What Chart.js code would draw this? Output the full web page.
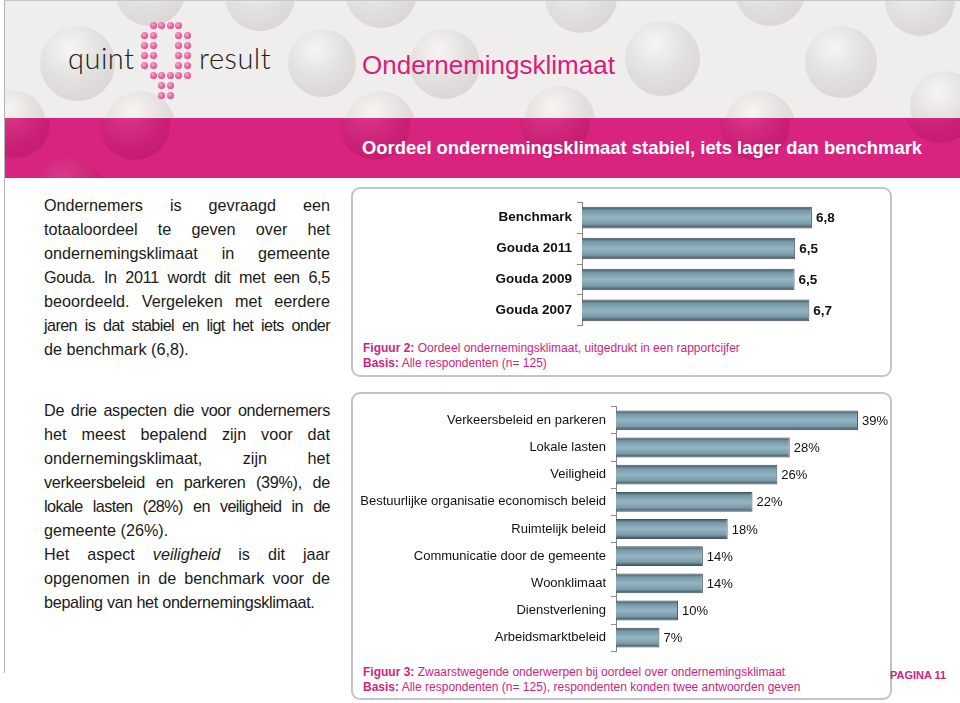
<!DOCTYPE html>
<html>
<head>
<meta charset="utf-8">
<script src="https://cdn.jsdelivr.net/npm/chart.js@4.4.1/dist/chart.umd.min.js"></script>
<style>
  html, body { margin: 0; padding: 0; background: #fff; }
  body { width: 960px; height: 703px; position: relative; overflow: hidden;
         font-family: 'Liberation Sans', Arial, sans-serif; color: #1a1a1a; }
  .page-edge { position: absolute; left: 4px; top: 0; width: 956px; height: 672px;
               border-left: 1px solid #b5b5b5; border-top: 1px solid #c8c8c8; }
  .head { position: absolute; left: 5px; top: 1px; width: 955px; height: 117px;
          background: #efeeec; overflow: hidden; }
  .band { position: absolute; left: 5px; top: 118px; width: 955px; height: 60px;
          background: #d8237f; overflow: hidden; }
  .bub { position: absolute; border-radius: 50%;
         background: radial-gradient(circle at 40% 30%, #f6f5f4 0%, #e3e1df 45%, #d3d0ce 100%); }
  .band .bub { background: radial-gradient(circle at 40% 30%, #dc3a8a 0%, #c91f74 60%, #be1c6c 100%); }
  .logo { position: absolute; top: 40px; font-size: 29px; font-weight: 300;
          font-family: 'Lato', 'Open Sans', sans-serif; color: #222; letter-spacing: 0.5px; }
  .dots { position: absolute; left: 141px; top: 22px; display: grid;
          grid-template-columns: repeat(6, 8.6px); grid-auto-rows: 10px; }
  .dots i { display: block; width: 7px; height: 7px; border-radius: 50%;
            background: radial-gradient(circle at 40% 35%, #f6a9cf 0%, #e2488f 70%); }
  .dots i.o { background: none; }
  .title { position: absolute; left: 362px; top: 50px; font-size: 26px; color: #d81e7b; }
  .subtitle { position: absolute; left: 362px; top: 137px; font-size: 18.4px; font-weight: bold; color: #fff; }
  .txt { position: absolute; left: 44px; width: 286px; font-size: 16.2px; line-height: 24px;
         color: #1a1a1a; }
  .txt div { text-align: justify; text-align-last: justify; white-space: nowrap; }
  .txt div.end { text-align-last: left; }
  .txt div.tight { letter-spacing: -0.3px; }
  .txt div.tighter { letter-spacing: -0.6px; word-spacing: -1px; }
  .box { position: absolute; left: 351px; width: 537px; border: 2px solid #c4c4c4;
         border-radius: 9px; background: #fff; }
  .cap { position: absolute; left: 10px; font-size: 12px; line-height: 15px; color: #d1237f; }
  .cap b { font-weight: bold; }
  canvas { position: absolute; left: 0; }
  .pag { position: absolute; left: 890px; top: 669px; font-size: 11px; font-weight: bold; color: #d1237f; }
</style>
</head>
<body>
<div class="page-edge"></div>
<div class="head">
  <div class="bub" style="left:110px;top:-45px;width:70px;height:70px"></div>
  <div class="bub" style="left:35px;top:25px;width:75px;height:75px"></div>
  <div class="bub" style="left:220px;top:-40px;width:70px;height:70px"></div>
  <div class="bub" style="left:340px;top:-45px;width:72px;height:72px"></div>
  <div class="bub" style="left:283px;top:28px;width:68px;height:68px"></div>
  <div class="bub" style="left:405px;top:28px;width:70px;height:70px"></div>
  <div class="bub" style="left:-20px;top:90px;width:60px;height:60px"></div>
  <div class="bub" style="left:100px;top:90px;width:70px;height:70px"></div>
  <div class="bub" style="left:340px;top:90px;width:70px;height:70px"></div>
  <div class="bub" style="left:540px;top:-40px;width:72px;height:72px"></div>
  <div class="bub" style="left:620px;top:20px;width:75px;height:75px"></div>
  <div class="bub" style="left:730px;top:-45px;width:70px;height:70px"></div>
  <div class="bub" style="left:800px;top:25px;width:72px;height:72px"></div>
  <div class="bub" style="left:880px;top:-35px;width:70px;height:70px"></div>
  <div class="bub" style="left:520px;top:85px;width:70px;height:70px"></div>
  <div class="bub" style="left:720px;top:90px;width:70px;height:70px"></div>
  <div class="bub" style="left:905px;top:70px;width:70px;height:70px"></div>
</div>
<div class="band">
  <div class="bub" style="left:-25px;top:-30px;width:70px;height:70px"></div>
  <div class="bub" style="left:95px;top:-28px;width:70px;height:70px"></div>
  <div class="bub" style="left:30px;top:40px;width:70px;height:70px"></div>
  <div class="bub" style="left:335px;top:-28px;width:70px;height:70px"></div>
  <div class="bub" style="left:515px;top:-32px;width:70px;height:70px"></div>
  <div class="bub" style="left:715px;top:-28px;width:70px;height:70px"></div>
  <div class="bub" style="left:900px;top:-45px;width:70px;height:70px"></div>
</div>

<div class="logo" style="left:68px">quint</div>
<div class="dots" id="dots"></div>
<div class="logo" style="left:199px">result</div>

<div class="title">Ondernemingsklimaat</div>
<div class="subtitle">Oordeel ondernemingsklimaat stabiel, iets lager dan benchmark</div>

<div class="txt" style="top:193px">
  <div>Ondernemers is gevraagd een</div>
  <div>totaaloordeel te geven over het</div>
  <div>ondernemingsklimaat in gemeente</div>
  <div class="tight">Gouda. In 2011 wordt dit met een 6,5</div>
  <div>beoordeeld. Vergeleken met eerdere</div>
  <div class="tighter">jaren is dat stabiel en ligt het iets onder</div>
  <div class="end">de benchmark (6,8).</div>
</div>
<div class="txt" style="top:398px">
  <div class="tight">De drie aspecten die voor ondernemers</div>
  <div>het meest bepalend zijn voor dat</div>
  <div>ondernemingsklimaat, zijn het</div>
  <div class="tight">verkeersbeleid en parkeren (39%), de</div>
  <div class="tighter">lokale lasten (28%) en veiligheid in de</div>
  <div class="end">gemeente (26%).</div>
  <div>Het aspect <i>veiligheid</i> is dit jaar</div>
  <div>opgenomen in de benchmark voor de</div>
  <div class="end tight">bepaling van het ondernemingsklimaat.</div>
</div>

<div class="box" style="top:187px;height:186px">
  <canvas id="cijferChart" width="537" height="150" style="top:0"></canvas>
  <div class="cap" style="top:152px"><b>Figuur 2:</b> Oordeel ondernemingsklimaat, uitgedrukt in een rapportcijfer<br><b>Basis:</b> Alle respondenten (n= 125)</div>
</div>

<div class="box" style="top:392px;height:304px">
  <canvas id="onderwerpChart" width="537" height="270" style="top:0"></canvas>
  <div class="cap" style="top:271px"><b>Figuur 3:</b> Zwaarstwegende onderwerpen bij oordeel over ondernemingsklimaat<br><b>Basis:</b> Alle respondenten (n= 125), respondenten konden twee antwoorden geven</div>
</div>

<div class="pag">PAGINA 11</div>

<script>
// ── Data ──────────────────────────────────────────────────────────────────────
const cijferLabels = ['Benchmark', 'Gouda 2011', 'Gouda 2009', 'Gouda 2007'];
const cijferValues = [6.78, 6.52, 6.51, 6.74];

const onderwerpLabels = [
  'Verkeersbeleid en parkeren', 'Lokale lasten', 'Veiligheid',
  'Bestuurlijke organisatie economisch beleid', 'Ruimtelijk beleid',
  'Communicatie door de gemeente', 'Woonklimaat', 'Dienstverlening', 'Arbeidsmarktbeleid'
];
const onderwerpValues = [39, 28, 26, 22, 18, 14, 14, 10, 7];

// ── Logo dots (decoration) ────────────────────────────────────────────────────
const dotRows = ['.XXXX.', 'XX..XX', 'XX..XX', 'XX..XX', 'XX..XX', '.XXXXX', '..XX..', '..XX..'];
document.getElementById('dots').innerHTML =
  dotRows.map(r => r.split('').map(c => c === 'X' ? '<i></i>' : '<i class="o"></i>').join('')).join('');

// ── Chart.js defaults ─────────────────────────────────────────────────────────
Chart.defaults.font.family = "'Liberation Sans', Arial, sans-serif";
Chart.defaults.color = '#111';
Chart.defaults.animation = false;

// bar shading: cylinder-like gradient per bar
const shadePlugin = {
  id: 'shade',
  beforeDatasetsDraw(chart) {
    const ctx = chart.ctx;
    chart.getDatasetMeta(0).data.forEach(bar => {
      const top = bar.y - bar.height / 2, bot = bar.y + bar.height / 2;
      const g = ctx.createLinearGradient(0, top, 0, bot);
      g.addColorStop(0,    '#3e525b');
      g.addColorStop(0.18, '#7797a6');
      g.addColorStop(0.5,  '#94b5c4');
      g.addColorStop(0.8,  '#7b9aa9');
      g.addColorStop(1,    '#3a4b53');
      bar.options = Object.assign({}, bar.options, { backgroundColor: g });
    });
  }
};

// value labels at bar end
const valuePlugin = {
  id: 'values',
  afterDatasetsDraw(chart, args, opts) {
    const ctx = chart.ctx;
    const ds = chart.data.datasets[0];
    ctx.save();
    ctx.font = opts.font;
    ctx.fillStyle = '#111';
    ctx.textBaseline = 'middle';
    ctx.textAlign = 'left';
    chart.getDatasetMeta(0).data.forEach((bar, i) => {
      ctx.fillText(opts.format(ds.data[i]), bar.x + 4, bar.y + 1);
    });
    ctx.restore();
  }
};

function barChart(id, labels, values, o) {
  return new Chart(document.getElementById(id), {
    type: 'bar',
    data: {
      labels,
      datasets: [{
        data: values,
        backgroundColor: '#8aa8b5',
        borderColor: '#44555c', borderWidth: 1,
        categoryPercentage: 1, barPercentage: o.barPct,
      }]
    },
    options: {
      indexAxis: 'y',
      responsive: false,
      layout: { padding: { left: 0, right: o.padRight, top: 12, bottom: o.padBottom } },
      plugins: {
        legend: { display: false }, tooltip: { enabled: false },
        values: { font: o.valueFont, format: o.format }
      },
      scales: {
        x: { display: false, min: o.min, max: o.max },
        y: {
          afterFit: s => { s.width = o.axisLeft; },
          border: { display: true, color: '#8a8a8a', width: 1 },
          grid: { drawOnChartArea: false, color: '#8a8a8a', tickLength: 5, offset: true },
          ticks: { font: o.tickFont, color: '#111', padding: 5, autoSkip: false }
        }
      }
    },
    plugins: [shadePlugin, valuePlugin]
  });
}

barChart('cijferChart', cijferLabels, cijferValues, {
  barPct: 0.7, padRight: 19, padBottom: 10, axisLeft: 229,
  min: 3.2, max: 7.7,
  tickFont: { size: 13.5, weight: 'bold' },
  valueFont: "bold 13.5px 'Liberation Sans', Arial, sans-serif",
  format: v => v.toFixed(1).replace('.', ',')
});

barChart('onderwerpChart', onderwerpLabels, onderwerpValues, {
  barPct: 0.73, padRight: 19, padBottom: 12, axisLeft: 263,
  min: 0, max: 41.1,
  tickFont: { size: 13 },
  valueFont: "13px 'Liberation Sans', Arial, sans-serif",
  format: v => v + '%'
});
</script>
</body>
</html>
